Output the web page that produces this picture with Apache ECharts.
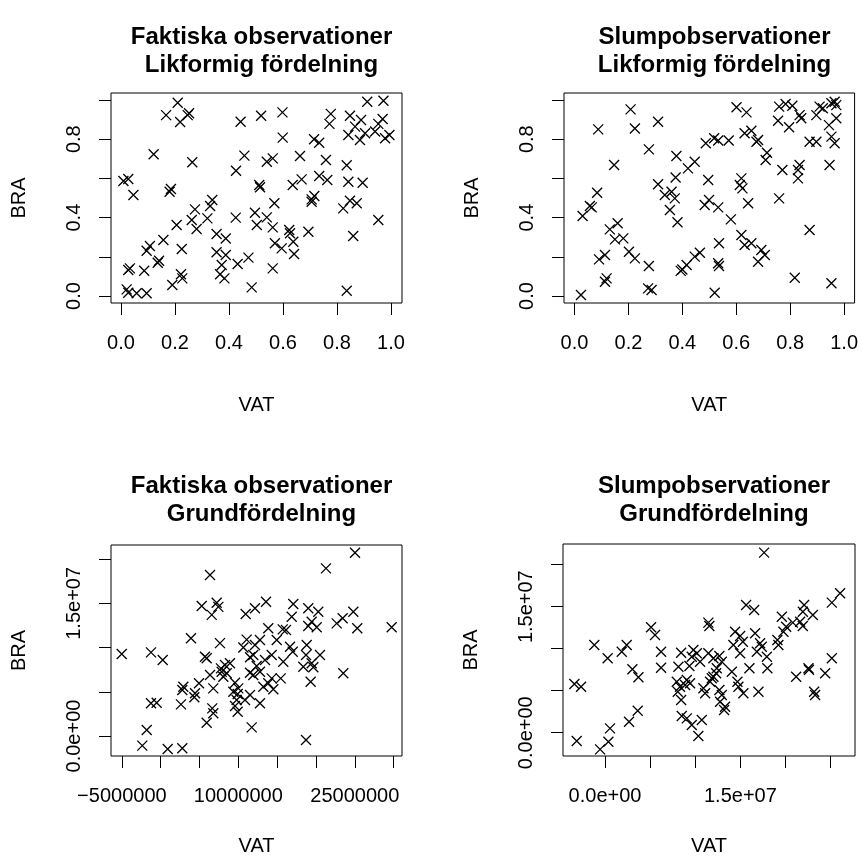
<!DOCTYPE html>
<html>
<head>
<meta charset="utf-8">
<script src="https://cdn.jsdelivr.net/npm/echarts@6/dist/echarts.min.js"></script>
<style>html,body{margin:0;padding:0;background:#fff}#c{width:861px;height:858px}</style>
</head>
<body>
<div id="c"></div>
<script>
// ---- Panel 1: Faktiska observationer, Likformig fördelning ----
const p1VAT = [0.21,0.167,0.252,0.247,0.219,0.443,0.121,0.264,0.457,0.426,0.009,0.027,0.046,0.185,0.180,0.338,0.330,0.274,0.320,0.262,0.280,0.206,0.425,0.157,0.107,0.095,0.225,0.141,0.136,0.033,0.027,0.086,0.354,0.388,0.354,0.388,0.373,0.367,0.383,0.432,0.472,0.222,0.227,0.190,0.021,0.027,0.058,0.095,0.484,
  0.912,0.972,0.519,0.598,0.777,0.772,0.848,0.889,0.969,0.953,0.867,0.842,0.885,0.904,0.941,0.978,0.994,0.599,0.715,0.734,0.663,0.759,0.836,0.540,0.562,0.512,0.515,0.636,0.669,0.734,0.764,0.842,0.895,0.568,0.706,0.716,0.706,0.823,0.848,0.873,0.953,0.496,0.540,0.503,0.562,0.623,0.626,0.694,0.570,0.595,0.638,0.641,0.860,0.562,0.836];
const p1BRA = [0.986,0.923,0.932,0.923,0.888,0.889,0.723,0.682,0.716,0.639,0.587,0.597,0.515,0.546,0.532,0.490,0.459,0.442,0.396,0.388,0.342,0.362,0.400,0.286,0.255,0.231,0.240,0.180,0.170,0.141,0.133,0.129,0.316,0.293,0.223,0.209,0.158,0.111,0.090,0.163,0.196,0.111,0.090,0.056,0.034,0.017,0.014,0.014,0.044,
  0.991,0.996,0.920,0.937,0.929,0.878,0.920,0.898,0.903,0.878,0.864,0.821,0.796,0.830,0.839,0.805,0.821,0.808,0.800,0.782,0.714,0.694,0.667,0.685,0.702,0.566,0.555,0.566,0.595,0.612,0.592,0.583,0.578,0.473,0.493,0.510,0.481,0.447,0.486,0.473,0.388,0.425,0.401,0.362,0.350,0.337,0.320,0.328,0.269,0.243,0.277,0.214,0.306,0.141,0.027];

// ---- Panel 2: Slumpobservationer, Likformig fördelning ----
const p2VAT = [0.208,0.088,0.224,0.310,0.276,0.147,0.378,0.375,0.310,0.335,0.360,0.372,0.354,0.382,0.084,0.057,0.064,0.030,0.160,0.131,0.150,0.181,0.202,0.224,0.113,0.091,0.276,0.119,0.113,0.273,0.286,0.024,0.394,0.400,
  0.601,0.638,0.759,0.783,0.808,0.755,0.796,0.835,0.841,0.897,0.909,0.921,0.953,0.965,0.971,0.944,0.971,0.953,0.965,0.872,0.897,0.946,0.487,0.518,0.533,0.572,0.631,0.656,0.675,0.681,0.714,0.709,0.446,0.421,0.771,0.835,0.829,0.829,0.496,0.619,0.613,0.623,0.759,0.499,0.483,0.533,0.644,0.580,0.872,0.619,0.631,0.656,0.536,0.693,0.706,0.681,0.465,0.446,0.416,0.533,0.536,0.520,0.817,0.953];
const p2BRA = [0.952,0.850,0.855,0.889,0.748,0.668,0.714,0.605,0.570,0.515,0.532,0.498,0.439,0.376,0.527,0.459,0.452,0.408,0.371,0.340,0.289,0.294,0.226,0.192,0.209,0.187,0.153,0.090,0.073,0.039,0.031,0.005,0.128,0.135,
  0.963,0.937,0.966,0.980,0.971,0.894,0.861,0.923,0.907,0.923,0.966,0.958,0.983,0.991,0.974,0.872,0.907,0.813,0.779,0.787,0.787,0.668,0.779,0.805,0.793,0.793,0.830,0.843,0.787,0.796,0.731,0.694,0.685,0.651,0.643,0.668,0.643,0.600,0.592,0.600,0.566,0.549,0.498,0.490,0.464,0.452,0.473,0.391,0.337,0.311,0.260,0.269,0.269,0.235,0.209,0.175,0.221,0.201,0.158,0.167,0.153,0.017,0.093,0.065];

// ---- Panel 3: Faktiska observationer, Grundfördelning ----
const p3VAT = [6.35e6,5.28e6,7.21e6,7.42e6,6.57e6,10.94e6,3.90e6,7.63e6,11.07e6,10.64e6,-5.02e6,-1.25e6,0.26e6,5.70e6,5.92e6,6.35e6,7.76e6,8.28e6,8.92e6,7.85e6,8.50e6,8.06e6,4.93e6,2.91e6,2.78e6,4.42e6,4.33e6,6.77e6,9.57e6,9.99e6,9.35e6,9.91e6,11.50e6,10.85e6,9.78e6,9.57e6,9.91e6,11.50e6,11.50e6,-1.25e6,-0.52e6,2.61e6,6.64e6,6.77e6,5.92e6,-1.80e6,-2.37e6,0.90e6,2.78e6,11.72e6,
  25.02e6,21.28e6,12.14e6,13.56e6,17.07e6,19.00e6,20.29e6,16.87e6,24.80e6,23.43e6,22.66e6,25.31e6,29.74e6,13.85e6,15.71e6,16.13e6,19.00e6,19.44e6,20.09e6,12.78e6,12.14e6,14.94e6,16.65e6,17.00e6,18.80e6,18.71e6,20.51e6,11.92e6,14.29e6,15.78e6,13.43e6,12.36e6,12.78e6,18.36e6,19.44e6,19.65e6,23.51e6,19.31e6,15.45e6,14.29e6,13.85e6,14.50e6,13.21e6,12.78e6,18.71e6,11.92e6];
const p3BRA = [18.2e6,14.7e6,15.07e6,14.6e6,13.7e6,13.8e6,11.05e6,10.5e6,10.9e6,10.0e6,9.27e6,9.46e6,8.59e6,8.97e6,8.79e6,6.90e6,7.65e6,8.03e6,8.22e6,7.27e6,7.09e6,6.71e6,5.96e6,5.57e6,5.20e6,4.83e6,4.38e6,5.39e6,6.03e6,5.39e6,5.01e6,4.75e6,4.64e6,4.07e6,4.07e6,3.39e6,2.75e6,7.16e6,8.90e6,3.70e6,3.77e6,3.58e6,3.13e6,2.57e6,1.50e6,0.68e6,-1.09e6,-1.47e6,-1.39e6,0.98e6,
  20.73e6,18.96e6,14.44e6,15.19e6,14.93e6,14.44e6,14.06e6,13.49e6,14.06e6,13.31e6,12.74e6,12.18e6,12.29e6,12.18e6,12.06e6,11.99e6,12.44e6,12.92e6,12.29e6,10.85e6,10.29e6,10.85e6,10.10e6,9.53e6,10.29e6,9.16e6,9.16e6,9.16e6,9.16e6,8.40e6,8.59e6,7.92e6,7.27e6,7.84e6,8.22e6,7.77e6,7.09e6,6.14e6,6.52e6,6.52e6,5.96e6,5.28e6,5.57e6,3.70e6,-0.45e6,6.90e6];

// ---- Panel 4: Slumpobservationer, Grundfördelning ----
const p4VAT = [5.10e6,5.54e6,-1.19e6,0.29e6,1.85e6,2.40e6,6.21e6,6.21e6,8.43e6,8.13e6,3.03e6,3.70e6,-3.40e6,-2.66e6,7.95e6,8.31e6,8.06e6,8.43e6,8.50e6,3.62e6,2.66e6,0.55e6,-3.14e6,-0.55e6,0.37e6,
  17.63e6,15.63e6,16.52e6,11.45e6,11.56e6,22.06e6,23.03e6,21.92e6,25.13e6,26.05e6,19.59e6,20.81e6,21.62e6,21.92e6,20.07e6,19.77e6,14.41e6,14.97e6,15.27e6,16.63e6,14.22e6,14.97e6,17.18e6,17.37e6,16.82e6,17.93e6,19.21e6,19.10e6,25.13e6,22.54e6,22.6e6,24.39e6,21.18e6,23.17e6,23.28e6,16.00e6,17.99e6,17.00e6,15.33e6,14.05e6,14.67e6,14.78e6,12.67e6,12.75e6,13.30e6,13.19e6,9.79e6,9.61e6,10.17e6,11.45e6,12.01e6,12.67e6,12.94e6,10.53e6,9.35e6,12.38e6,12.31e6,12.01e6,11.83e6,11.64e6,9.06e6,8.87e6,9.42e6,10.90e6,11.09e6,12.94e6,9.06e6,9.61e6,10.72e6,10.34e6];
const p4BRA = [12.55e6,11.63e6,10.44e6,8.86e6,9.64e6,10.44e6,9.64e6,7.74e6,9.52e6,7.86e6,7.55e6,6.60e6,5.80e6,5.48e6,6.07e6,5.48e6,4.88e6,3.89e6,1.99e6,2.62e6,1.31e6,0.52e6,-0.99e6,-1.98e6,-1.07e6,
  21.43e6,15.20e6,14.61e6,13.10e6,12.70e6,15.20e6,14.01e6,14.40e6,15.48e6,16.60e6,13.81e6,13.10e6,13.21e6,12.70e6,12.62e6,12.02e6,12.02e6,11.51e6,10.83e6,11.83e6,10.44e6,9.45e6,10.64e6,10.24e6,9.64e6,9.05e6,10.44e6,11.04e6,8.86e6,7.67e6,7.5e6,7.07e6,6.67e6,4.88e6,4.49e6,7.67e6,7.67e6,4.88e6,4.69e6,7.26e6,6.07e6,5.48e6,5.08e6,3.69e6,3.10e6,2.70e6,9.85e6,9.05e6,9.45e6,9.45e6,8.86e6,9.13e6,8.45e6,8.45e6,7.94e6,7.67e6,7.07e6,6.67e6,6.48e6,6.07e6,6.27e6,5.68e6,5.88e6,5.29e6,4.69e6,4.49e6,1.71e6,0.92e6,1.51e6,-0.39e6];

// ---- Titles and tick values ----
const titles = [
  'Faktiska observationer\nLikformig fördelning',
  'Slumpobservationer\nLikformig fördelning',
  'Faktiska observationer\nGrundfördelning',
  'Slumpobservationer\nGrundfördelning'];
const unifTicks = [0, 0.2, 0.4, 0.6, 0.8, 1.0];
const unifXLabels = [0, 0.2, 0.4, 0.6, 0.8, 1.0];
const unifYLabels = [0, 0.4, 0.8];
const p3XTicks = [-5e6, 0, 5e6, 10e6, 15e6, 20e6, 25e6, 30e6];
const p3XLabels = [-5e6, 10e6, 25e6];
const bigYTicks = [0, 5e6, 10e6, 15e6, 20e6];
const bigYLabels = [0, 15e6];
const p4XTicks = [0, 5e6, 10e6, 15e6, 20e6, 25e6];
const p4XLabels = [0, 15e6];

function zip(a, b) { return a.map((v, i) => [v, b[i]]); }
function fmt1(v) { return v.toFixed(1); }
function fmtSci(v) {
  if (v === 0) return '0.0e+00';
  const e = Math.floor(Math.log10(Math.abs(v)));
  const m = v / Math.pow(10, e);
  return m.toFixed(1) + 'e' + (e < 0 ? '-' : '+') + String(Math.abs(e)).padStart(2, '0');
}
function fmtInt(v) { return (v < 0 ? '\u2212' : '') + String(Math.abs(Math.round(v))); }

const FONT = '"Liberation Sans", Arial, Helvetica, sans-serif';
const grids = [
  { left: 111, top: 93, width: 291, height: 210 },
  { left: 564, top: 93, width: 291, height: 210 },
  { left: 111, top: 545, width: 291, height: 211 },
  { left: 563, top: 544, width: 292, height: 212 }
];
const xr = [[-0.0370, 1.0407], [-0.0389, 1.0389], [-6.40e6, 31.07e6], [-4.66e6, 27.7e6]];
const yr = [[-0.0357, 1.0357], [-0.0357, 1.0357], [-2.26e6, 21.6e6], [-2.77e6, 22.46e6]];
const xt = [[unifTicks, unifXLabels, fmt1], [unifTicks, unifXLabels, fmt1], [p3XTicks, p3XLabels, fmtInt], [p4XTicks, p4XLabels, fmtSci]];
const yt = [[unifTicks, unifYLabels, fmt1], [unifTicks, unifYLabels, fmt1], [bigYTicks, bigYLabels, fmtSci], [bigYTicks, bigYLabels, fmtSci]];
const dataSets = [zip(p1VAT, p1BRA), zip(p2VAT, p2BRA), zip(p3VAT, p3BRA), zip(p4VAT, p4BRA)];

const option = {
  backgroundColor: '#fff',
  animation: false,
  title: grids.map((g, i) => ({
    text: titles[i],
    left: g.left + g.width / 2,
    top: i < 2 ? 18 : 467,
    textAlign: 'center',
    textStyle: { fontFamily: FONT, fontSize: 24, fontWeight: 'bold', color: '#000', lineHeight: 28 }
  })),
  grid: grids.map(g => Object.assign({ show: true, borderColor: '#000', borderWidth: 1, backgroundColor: 'transparent' }, g)),
  xAxis: grids.map((g, i) => ({
    type: 'value', gridIndex: i, min: xr[i][0], max: xr[i][1], position: 'bottom',
    name: 'VAT', nameLocation: 'middle', nameGap: i < 2 ? 92 : 80,
    nameTextStyle: { fontFamily: FONT, fontSize: 20, color: '#000' },
    axisLine: { show: false, onZero: false },
    axisTick: { show: true, inside: false, length: 12, customValues: xt[i][0], lineStyle: { color: '#000', width: 1 } },
    axisLabel: { show: true, margin: 30, customValues: xt[i][1], formatter: xt[i][2], fontFamily: FONT, fontSize: 20, color: '#000', hideOverlap: false, showMinLabel: true, showMaxLabel: true },
    splitLine: { show: false }
  })),
  yAxis: grids.map((g, i) => ({
    type: 'value', gridIndex: i, min: yr[i][0], max: yr[i][1], position: 'left',
    name: 'BRA', nameLocation: 'middle', nameGap: 82, nameRotate: 90,
    nameTextStyle: { fontFamily: FONT, fontSize: 20, color: '#000' },
    axisLine: { show: false, onZero: false },
    axisTick: { show: true, inside: false, length: 12, customValues: yt[i][0], lineStyle: { color: '#000', width: 1 } },
    axisLabel: { show: true, margin: 27, rotate: 90, customValues: yt[i][1], formatter: yt[i][2], fontFamily: FONT, fontSize: 20, color: '#000', hideOverlap: false, showMinLabel: true, showMaxLabel: true },
    splitLine: { show: false }
  })),
  series: dataSets.map((d, i) => ({
    type: 'scatter', xAxisIndex: i, yAxisIndex: i, data: d,
    symbol: 'path://M0,0L10,10M10,0L0,10', symbolSize: 10,
    itemStyle: { color: 'rgba(0,0,0,0)', borderColor: '#000', borderWidth: 1.3, opacity: 1 },
    emphasis: { disabled: true }, silent: true
  }))
};
const chart = echarts.init(document.getElementById('c'), null, { renderer: 'canvas' });
chart.setOption(option);
</script>
</body>
</html>
